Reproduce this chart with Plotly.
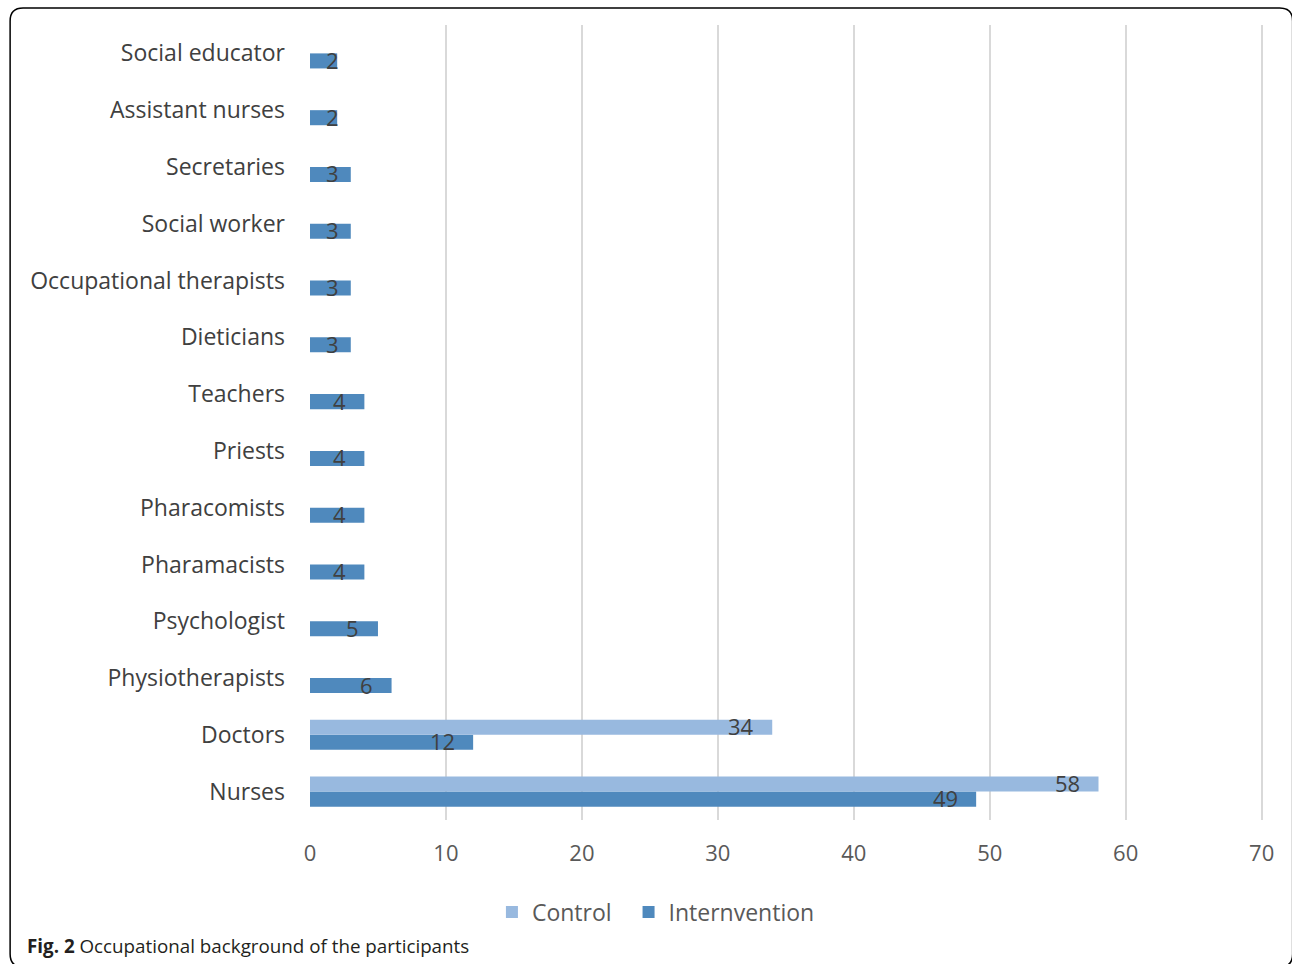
import plotly.graph_objects as go

categories = ["Nurses", "Doctors", "Physiotherapists", "Psychologist", "Pharamacists",
              "Pharacomists", "Priests", "Teachers", "Dieticians", "Occupational therapists",
              "Social worker", "Secretaries", "Assistant nurses", "Social educator"]
control = [58, 34, None, None, None, None, None, None, None, None, None, None, None, None]
intervention = [49, 12, 6, 5, 4, 4, 4, 4, 3, 3, 3, 3, 2, 2]
x_ticks = [0, 10, 20, 30, 40, 50, 60, 70]

W, H = 1292, 964
XMAX = 70.1
L, T, B = 310, 25, 144
UNIT = 952 / 70.0
PW = XMAX * UNIT
R = W - L - PW
PH = H - T - B

def px(x):
    return (x - L) / PW

def py(y):
    return (H - B - y) / PH

LABEL = "Open Sans"
LBLCOLOR = "#404040"
BARGAP = 0.47
bar_px = (1 - BARGAP) / 2 * PH / len(categories)
NB = "\u00a0"

fig = go.Figure()
fig.add_trace(go.Bar(
    y=categories, x=intervention, orientation="h", name="Internvention",
    marker=dict(color="#4F89BD", line=dict(width=0)), legendrank=2,
))
fig.add_trace(go.Bar(
    y=categories, x=control, orientation="h", name="Control" + NB * 2,
    marker=dict(color="#98B9DF", line=dict(width=0)), legendrank=1,
))

# data labels (inside-end style, kept off the axis for short bars)
def label_x(v):
    digits = len(str(v))
    off = (25 if digits == 1 else 31) / UNIT
    return max(v - off, 23 / UNIT)

annotations = []
for series, shift in ((intervention, -bar_px / 2), (control, bar_px / 2)):
    for cat, v in zip(categories, series):
        if v is None:
            continue
        annotations.append(dict(x=label_x(v), y=cat, xref="x", yref="y", text=str(v),
                                showarrow=False, xanchor="center", yanchor="middle",
                                yshift=shift + 1,
                                font=dict(family=LABEL, size=22, color=LBLCOLOR)))

annotations.append(dict(xref="paper", yref="paper", x=px(25), y=py(946), xanchor="left",
                        yanchor="middle", showarrow=False,
                        text="<b>Fig. 2</b> Occupational background of the participants",
                        font=dict(family="Open Sans", size=18.8, color="#231F20")))

# rounded frame
x0, y0, x1, y1, r = px(10), py(8), px(1293), py(967), 13
rx, ry = r / PW, r / PH
path = (f"M {x0+rx},{y0} L {x1-rx},{y0} Q {x1},{y0} {x1},{y0-ry} "
        f"L {x1},{y1+ry} Q {x1},{y1} {x1-rx},{y1} "
        f"L {x0+rx},{y1} Q {x0},{y1} {x0},{y1+ry} "
        f"L {x0},{y0-ry} Q {x0},{y0} {x0+rx},{y0} Z")

fig.update_layout(
    width=W, height=H,
    margin=dict(l=L, r=R, t=T, b=B),
    paper_bgcolor="white", plot_bgcolor="white",
    barmode="group", bargap=BARGAP, bargroupgap=0,
    font=dict(family=LABEL, color=LBLCOLOR),
    xaxis=dict(range=[0, XMAX], tickvals=x_ticks, showgrid=True, gridcolor="#D9D9D9",
               gridwidth=2, zeroline=False, showline=False,
               tickfont=dict(family=LABEL, size=22, color="#595959"),
               ticks="", ticklabelstandoff=18),
    yaxis=dict(showgrid=False, zeroline=False, showline=False, ticks="",
               tickfont=dict(family=LABEL, size=23, color=LBLCOLOR),
               ticklabelstandoff=24),
    showlegend=True,
    legend=dict(orientation="h", x=px(492), xanchor="left", y=py(912), yanchor="middle",
                font=dict(family=LABEL, size=23, color="#595959"),
                itemwidth=30),
    shapes=[dict(type="path", xref="paper", yref="paper", path=path,
                 line=dict(color="black", width=1.5), fillcolor="rgba(0,0,0,0)", layer="below")],
    annotations=annotations,
)

fig.write_html("out.html")
